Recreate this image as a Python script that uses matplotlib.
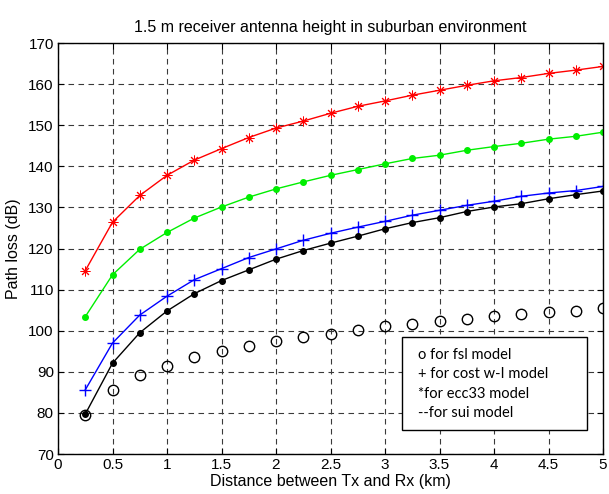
import matplotlib
matplotlib.use('Agg')
import matplotlib.pyplot as plt
from matplotlib.patches import Rectangle

# distance (km) and path loss (dB) for each model
dist = [0.25, 0.5, 0.75, 1.0, 1.25, 1.5, 1.75, 2.0, 2.25, 2.5,
        2.75, 3.0, 3.25, 3.5, 3.75, 4.0, 4.25, 4.5, 4.75, 5.0]
ecc33 = [114.6, 126.4, 132.9, 137.8, 141.5, 144.3, 147.0, 149.3, 151.0, 152.9,
         154.6, 155.9, 157.3, 158.5, 159.7, 160.8, 161.6, 162.6, 163.4, 164.3]
sui = [103.4, 113.6, 119.8, 123.9, 127.4, 130.1, 132.5, 134.5, 136.2, 137.8,
       139.2, 140.6, 141.9, 142.7, 143.9, 144.8, 145.6, 146.6, 147.3, 148.3]
cost = [85.6, 97.0, 103.8, 108.4, 112.4, 115.1, 117.8, 119.9, 122.0, 123.7,
        125.2, 126.6, 128.1, 129.3, 130.5, 131.5, 132.7, 133.5, 134.1, 135.1]
other = [79.7, 92.1, 99.5, 104.8, 109.0, 112.2, 114.8, 117.4, 119.5, 121.3,
         123.0, 124.8, 126.3, 127.5, 129.0, 130.1, 130.9, 132.1, 133.1, 134.0]
fsl = [79.6, 85.5, 89.1, 91.5, 93.5, 95.0, 96.3, 97.6, 98.5, 99.3,
       100.2, 101.1, 101.7, 102.3, 102.9, 103.5, 104.1, 104.6, 104.9, 105.5]

xticks = [0, 0.5, 1, 1.5, 2, 2.5, 3, 3.5, 4, 4.5, 5]
yticks = [70, 80, 90, 100, 110, 120, 130, 140, 150, 160, 170]
legend_lines = ['o for fsl model', '+ for cost w-I model',
                '*for ecc33 model', '--for sui model']

plt.rcParams['font.family'] = ['Liberation Sans', 'DejaVu Sans']

fig = plt.figure(figsize=(6.09, 4.94), dpi=100)
ax = fig.add_axes([58/609, 1 - 454/494, 545/609, 411/494])

# matlab-like asterisk: 8-spoke star
ax.plot(dist, ecc33, 'r-', marker=(8, 2, 0), markersize=7, markeredgewidth=0.7, linewidth=1)
ax.plot(dist, sui, '-', color='#00ee00', marker='.', markersize=8, linewidth=1)
ax.plot(dist, cost, 'b-', marker='+', markersize=8, markeredgewidth=1, linewidth=1)
ax.plot(dist, other, 'k-', marker='.', markersize=8, linewidth=1)
ax.plot(dist, fsl, 'o', markersize=7.5, markerfacecolor='none',
        markeredgecolor='k', markeredgewidth=1)

ax.set_xlim(0, 5)
ax.set_ylim(70, 170)
ax.set_xticks(xticks)
ax.set_xticklabels([('%g' % t) for t in xticks])
ax.set_yticks(yticks)
ax.tick_params(direction='in', top=True, right=True, labelsize=11, length=4, pad=3)
ax.grid(True, color='#3a3a3a', linestyle=(0, (5, 4)), linewidth=0.8)
for s in ax.spines.values():
    s.set_linewidth(1)

ax.set_title('1.5 m receiver antenna height in suburban environment', fontsize=11.5, pad=8)
ax.set_xlabel('Distance between Tx and Rx (km)', fontsize=11.5, labelpad=1)
ax.set_ylabel('Path loss (dB)', fontsize=11.5, labelpad=5)

# text box with model notes
box = Rectangle((402/609, 1 - 430/494), 185/609, 93/494, transform=fig.transFigure,
                facecolor='white', edgecolor='black', linewidth=1, zorder=5)
fig.patches.append(box)
for i, txt in enumerate(legend_lines):
    fig.text(418/609, 1 - (355 + i*19.3)/494, txt, fontsize=10.5, family='Lato',
             va='center', ha='left', zorder=6)

fig.savefig('out.png', dpi=100)
